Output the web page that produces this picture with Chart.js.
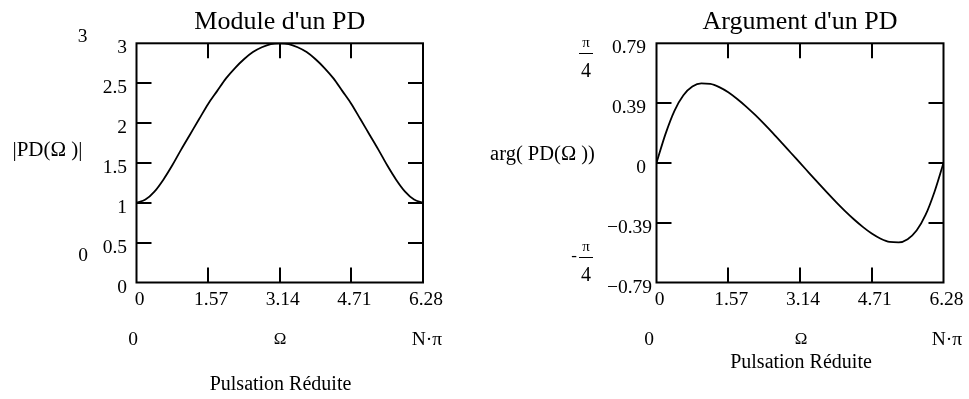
<!DOCTYPE html>
<html>
<head>
<meta charset="utf-8">
<script src="https://cdn.jsdelivr.net/npm/chart.js@4/dist/chart.umd.min.js"></script>
<style>
  html, body { margin: 0; padding: 0; background: #ffffff; }
  #wrap { position: relative; width: 969px; height: 399px; overflow: hidden; background: #ffffff; }
  canvas { position: absolute; top: 0; }
  #modCanvas { left: 0; }
  #argCanvas { left: 480px; }
</style>
</head>
<body>
<div id="wrap">
  <canvas id="modCanvas" width="480" height="399"></canvas>
  <canvas id="argCanvas" width="489" height="399"></canvas>
</div>
<script>
// Reduced pulsation Ω, sampled over one period [0, 2π]
const omega = [0, 0.196, 0.393, 0.589, 0.785, 0.982, 1.178, 1.374, 1.571, 1.767, 1.963,
  2.160, 2.356, 2.553, 2.749, 2.945, 3.142, 3.338, 3.534, 3.731, 3.927, 4.123, 4.320,
  4.516, 4.712, 4.909, 5.105, 5.301, 5.498, 5.694, 5.890, 6.087, 6.283];

// |PD(Ω)|
const modulePD = [1.00, 1.04, 1.14, 1.29, 1.47, 1.67, 1.86, 2.05, 2.24, 2.40, 2.56,
  2.69, 2.80, 2.89, 2.95, 2.99, 3.00, 2.99, 2.95, 2.89, 2.80, 2.69, 2.56,
  2.40, 2.24, 2.05, 1.86, 1.67, 1.47, 1.29, 1.14, 1.04, 1.00];

// arg(PD(Ω)) in radians
const argumentPD = [0, 0.189, 0.342, 0.444, 0.501, 0.522, 0.519, 0.498, 0.464, 0.420, 0.370,
  0.315, 0.256, 0.194, 0.130, 0.065, 0, -0.065, -0.130, -0.194, -0.256, -0.315, -0.370,
  -0.420, -0.464, -0.498, -0.519, -0.522, -0.501, -0.444, -0.342, -0.189, 0];

// Axis ticks and their labels
const omegaTicks = [0, 1.571, 3.142, 4.712, 6.283];
const omegaTickLabels = ['0', '1.57', '3.14', '4.71', '6.28'];
const moduleTicks = [0, 0.5, 1, 1.5, 2, 2.5, 3];
const moduleTickLabels = ['0', '0.5', '1', '1.5', '2', '2.5', '3'];
const argTicks = [-0.785, -0.393, 0, 0.393, 0.785];
const argTickLabels = ['\u22120.79', '\u22120.39', '0', '0.39', '0.79'];

const FONT = '"Liberation Serif", "Times New Roman", serif';
const TICK_LEN = 15;

function put(ctx, str, x, y, size, align) {
  ctx.font = size + 'px ' + FONT;
  ctx.textAlign = align || 'center';
  ctx.textBaseline = 'middle';
  ctx.fillStyle = '#000';
  ctx.fillText(str, x, y);
}

// Boxed frame with inward ticks on all four sides, plus the text around it
const mathcadFrame = {
  id: 'mathcadFrame',
  afterDatasetsDraw(chart, args, opts) {
    const ctx = chart.ctx;
    const a = chart.chartArea;
    const xs = chart.scales.x, ys = chart.scales.y;
    ctx.save();
    ctx.strokeStyle = '#000';
    ctx.lineWidth = 2;
    ctx.strokeRect(a.left, a.top, a.right - a.left, a.bottom - a.top);
    ctx.beginPath();
    opts.xTicks.forEach((v, i) => {
      if (i === 0 || i === opts.xTicks.length - 1) return;
      const px = Math.round(xs.getPixelForValue(v));
      ctx.moveTo(px, a.bottom); ctx.lineTo(px, a.bottom - TICK_LEN);
      ctx.moveTo(px, a.top); ctx.lineTo(px, a.top + TICK_LEN);
    });
    opts.yTicks.forEach((v, i) => {
      if (i === 0 || i === opts.yTicks.length - 1) return;
      const py = Math.round(ys.getPixelForValue(v));
      ctx.moveTo(a.left, py); ctx.lineTo(a.left + TICK_LEN, py);
      ctx.moveTo(a.right, py); ctx.lineTo(a.right - TICK_LEN, py);
    });
    ctx.stroke();

    // tick labels
    opts.xTicks.forEach((v, i) => {
      put(ctx, opts.xLabels[i], xs.getPixelForValue(v) + 3, a.bottom + 17, 19.5, 'center');
    });
    opts.yTicks.forEach((v, i) => {
      const lab = opts.yLabels[i];
      const shift = lab.charAt(0) === '\u2212' ? opts.negShift : 0;
      put(ctx, lab, a.left - opts.yLabelGap + shift, ys.getPixelForValue(v) + 5, 19.5, 'right');
    });

    // title
    put(ctx, opts.title, (a.left + a.right) / 2, 22, 26, 'center');

    // free annotations
    opts.notes.forEach(n => put(ctx, n.t, n.x, n.y, n.s || 19.5, n.a || 'center'));

    // stacked fractions (π over 4)
    (opts.fractions || []).forEach(f => {
      if (f.neg) put(ctx, '-', f.x - 12, f.y, 17, 'center');
      put(ctx, 'π', f.x, f.y - 10, 15, 'center');
      ctx.beginPath();
      ctx.lineWidth = 1;
      ctx.moveTo(f.x - 7, f.y + 0.5); ctx.lineTo(f.x + 7, f.y + 0.5);
      ctx.stroke();
      put(ctx, '4', f.x, f.y + 19, 20, 'center');
    });
    ctx.restore();
  }
};

function makeChart(canvasId, values, yMin, yMax, padding, frameOpts) {
  return new Chart(document.getElementById(canvasId), {
    type: 'line',
    data: {
      datasets: [{
        data: omega.map((w, i) => ({ x: w, y: values[i] })),
        borderColor: '#000',
        borderWidth: 1.8,
        pointRadius: 0,
        fill: false,
        cubicInterpolationMode: 'monotone'
      }]
    },
    options: {
      responsive: false,
      animation: false,
      devicePixelRatio: 1,
      layout: { padding: padding },
      plugins: {
        legend: { display: false },
        tooltip: { enabled: false },
        mathcadFrame: frameOpts
      },
      scales: {
        x: { type: 'linear', min: 0, max: 2 * Math.PI, display: false },
        y: { type: 'linear', min: yMin, max: yMax, display: false }
      }
    },
    plugins: [mathcadFrame]
  });
}

// Module d'un PD
makeChart('modCanvas', modulePD, 0, 3,
  { left: 136.5, right: 57, top: 43.3, bottom: 116.5 },
  {
    title: "Module d'un PD",
    xTicks: omegaTicks, xLabels: omegaTickLabels,
    yTicks: moduleTicks, yLabels: moduleTickLabels,
    yLabelGap: 9.5, negShift: 0,
    notes: [
      { t: '3', x: 82.5, y: 37 },
      { t: '0', x: 83, y: 256 },
      { t: '|PD(Ω )|', x: 47.5, y: 150, s: 21 },
      { t: '0', x: 133, y: 340 },
      { t: 'Ω', x: 280, y: 340, s: 17 },
      { t: 'N·π', x: 427, y: 340 },
      { t: 'Pulsation Réduite', x: 280.5, y: 385, s: 20 }
    ]
  });

// Argument d'un PD
makeChart('argCanvas', argumentPD, -Math.PI / 4, Math.PI / 4,
  { left: 176.5, right: 25.5, top: 43.3, bottom: 116.5 },
  {
    title: "Argument d'un PD",
    xTicks: omegaTicks, xLabels: omegaTickLabels,
    yTicks: argTicks, yLabels: argTickLabels,
    yLabelGap: 10.5, negShift: 6,
    notes: [
      { t: 'arg( PD(Ω ))', x: 62.5, y: 155, s: 20.5 },
      { t: '0', x: 169, y: 340 },
      { t: 'Ω', x: 321, y: 340, s: 17 },
      { t: 'N·π', x: 467, y: 340 },
      { t: 'Pulsation Réduite', x: 321, y: 363, s: 20 }
    ],
    fractions: [
      { x: 106, y: 53, neg: false },
      { x: 106, y: 257, neg: true }
    ]
  });
</script>
</body>
</html>
